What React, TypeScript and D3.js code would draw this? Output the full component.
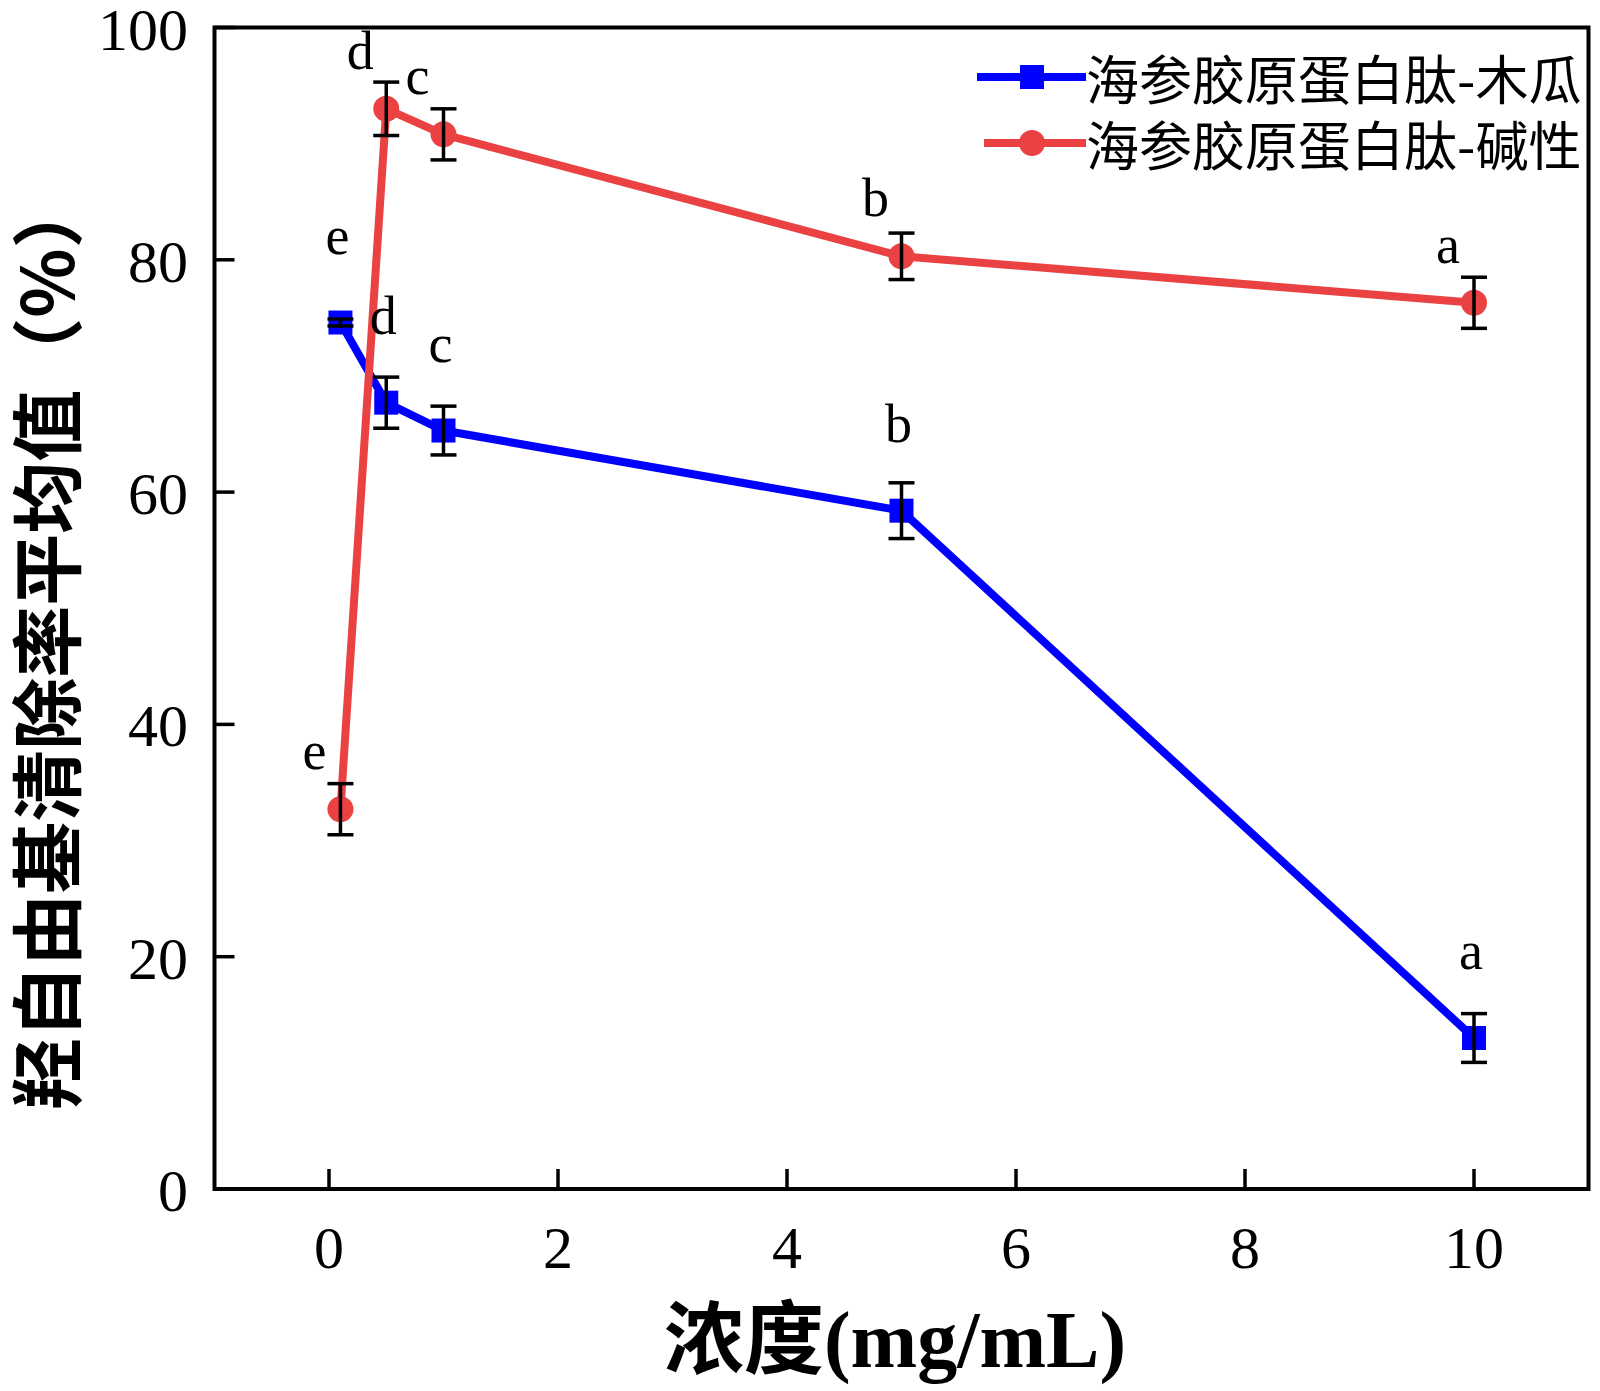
import React from "react";
import * as d3 from "d3";

const concentrations = [0.1, 0.5, 1, 5, 10];
const papayaValues = [74.6, 67.7, 65.3, 58.4, 13.0];
const papayaErrors = [0.3, 2.2, 2.1, 2.4, 2.1];
const papayaLetters = ["e", "d", "c", "b", "a"];
const alkalineValues = [32.7, 93.0, 90.8, 80.3, 76.3];
const alkalineErrors = [2.2, 2.3, 2.2, 2.0, 2.2];
const alkalineLetters = ["e", "d", "c", "b", "a"];
const xTicks = [0, 2, 4, 6, 8, 10];
const yTicks = [0, 20, 40, 60, 80, 100];
const seriesNames = ["海参胶原蛋白肽-木瓜", "海参胶原蛋白肽-碱性"];
const xTitleCJK = "浓度";
const xTitleLatin = "(mg/mL)";
const yTitle = "羟自由基清除率平均值（%）";

const W = 1600;
const H = 1391;
const BLUE = "#0000FF";
const RED = "#EA4242";
const SERIF = "'Liberation Serif', 'DejaVu Serif', serif";
const CJK = "'Noto Sans CJK SC', 'Noto Sans', sans-serif";

export default function App() {
  const x = d3.scaleLinear().domain([-1, 11]).range([214.5, 1588.5]);
  const y = d3.scaleLinear().domain([0, 100]).range([1189, 27.5]);
  const line = d3
    .line<number>()
    .x((_, i) => x(concentrations[i]))
    .y((v) => y(v));

  const series = [
    { values: papayaValues, errors: papayaErrors, letters: papayaLetters, color: BLUE, marker: "square", ldx: -3, ldy: -69 },
    { values: alkalineValues, errors: alkalineErrors, letters: alkalineLetters, color: RED, marker: "circle", ldx: -26, ldy: -40 },
  ];

  const [x0, x1] = x.range();
  const [yb, yt] = y.range();

  return (
    <svg width={W} height={H} style={{ position: "absolute", left: 0, top: 0, background: "#fff" }}>
      <rect x={0} y={0} width={W} height={H} fill="#fff" />
      {/* lines */}
      {series.map((s, si) => (
        <path key={"l" + si} d={line(s.values) || ""} fill="none" stroke={s.color} strokeWidth={8} strokeLinejoin="round" />
      ))}
      {/* markers */}
      {series.map((s, si) =>
        s.values.map((v, i) =>
          s.marker === "square" ? (
            <rect key={"m" + si + i} x={x(concentrations[i]) - 12} y={y(v) - 12} width={24} height={24} fill={s.color} />
          ) : (
            <circle key={"m" + si + i} cx={x(concentrations[i])} cy={y(v)} r={13} fill={s.color} />
          )
        )
      )}
      {/* error bars */}
      {series.map((s, si) =>
        s.values.map((v, i) => {
          const cx = x(concentrations[i]);
          const top = y(v + s.errors[i]);
          const bot = y(v - s.errors[i]);
          return (
            <g key={"e" + si + i} stroke="#000" strokeWidth={3.5}>
              <line x1={cx} x2={cx} y1={top} y2={bot} />
              <line x1={cx - 13} x2={cx + 13} y1={top} y2={top} />
              <line x1={cx - 13} x2={cx + 13} y1={bot} y2={bot} />
            </g>
          );
        })
      )}
      {/* significance letters */}
      {series.map((s, si) =>
        s.values.map((v, i) => (
          <text
            key={"t" + si + i}
            x={x(concentrations[i]) + s.ldx}
            y={y(v) + s.ldy}
            textAnchor="middle"
            fontFamily={SERIF}
            fontSize={54}
            fill="#000"
          >
            {s.letters[i]}
          </text>
        ))
      )}
      {/* frame */}
      <rect x={x0} y={yt} width={x1 - x0} height={yb - yt} fill="none" stroke="#000" strokeWidth={4} />
      {/* x ticks */}
      {xTicks.map((t) => (
        <g key={"xt" + t}>
          <line x1={x(t)} x2={x(t)} y1={yb} y2={yb - 20} stroke="#000" strokeWidth={3.5} />
          <text x={x(t)} y={1268} textAnchor="middle" fontFamily={SERIF} fontSize={60} fill="#000">
            {t}
          </text>
        </g>
      ))}
      {/* y ticks */}
      {yTicks.map((t) => (
        <g key={"yt" + t}>
          <line x1={x0} x2={x0 + 20} y1={y(t)} y2={y(t)} stroke="#000" strokeWidth={3.5} />
          <text x={188} y={y(t) + 22} textAnchor="end" fontFamily={SERIF} fontSize={60} fill="#000">
            {t}
          </text>
        </g>
      ))}
      {/* axis titles */}
      <text x={895} y={1367} textAnchor="middle" fontSize={80} fontWeight="bold" fill="#000">
        <tspan fontFamily={CJK}>{xTitleCJK}</tspan>
        <tspan fontFamily={SERIF}>{xTitleLatin}</tspan>
      </text>
      <text
        transform={`translate(42,643) rotate(-90)`}
        textAnchor="middle"
        dominantBaseline="central"
        fontFamily={CJK}
        fontSize={72}
        fontWeight="bold"
        fill="#000"
      >
        {yTitle}
      </text>
      {/* legend */}
      {series.map((s, si) => {
        const ly = 77 + si * 66;
        return (
          <g key={"lg" + si}>
            <line x1={si === 0 ? 977 : 984} x2={1086} y1={ly} y2={ly} stroke={s.color} strokeWidth={8} />
            {s.marker === "square" ? (
              <rect x={1032 - 12} y={ly - 12} width={24} height={24} fill={s.color} />
            ) : (
              <circle cx={1032} cy={ly} r={13} fill={s.color} />
            )}
            <text x={1086} y={ly} dominantBaseline="central" fontFamily={CJK} fontSize={53} fill="#000">
              {seriesNames[si]}
            </text>
          </g>
        );
      })}
    </svg>
  );
}
